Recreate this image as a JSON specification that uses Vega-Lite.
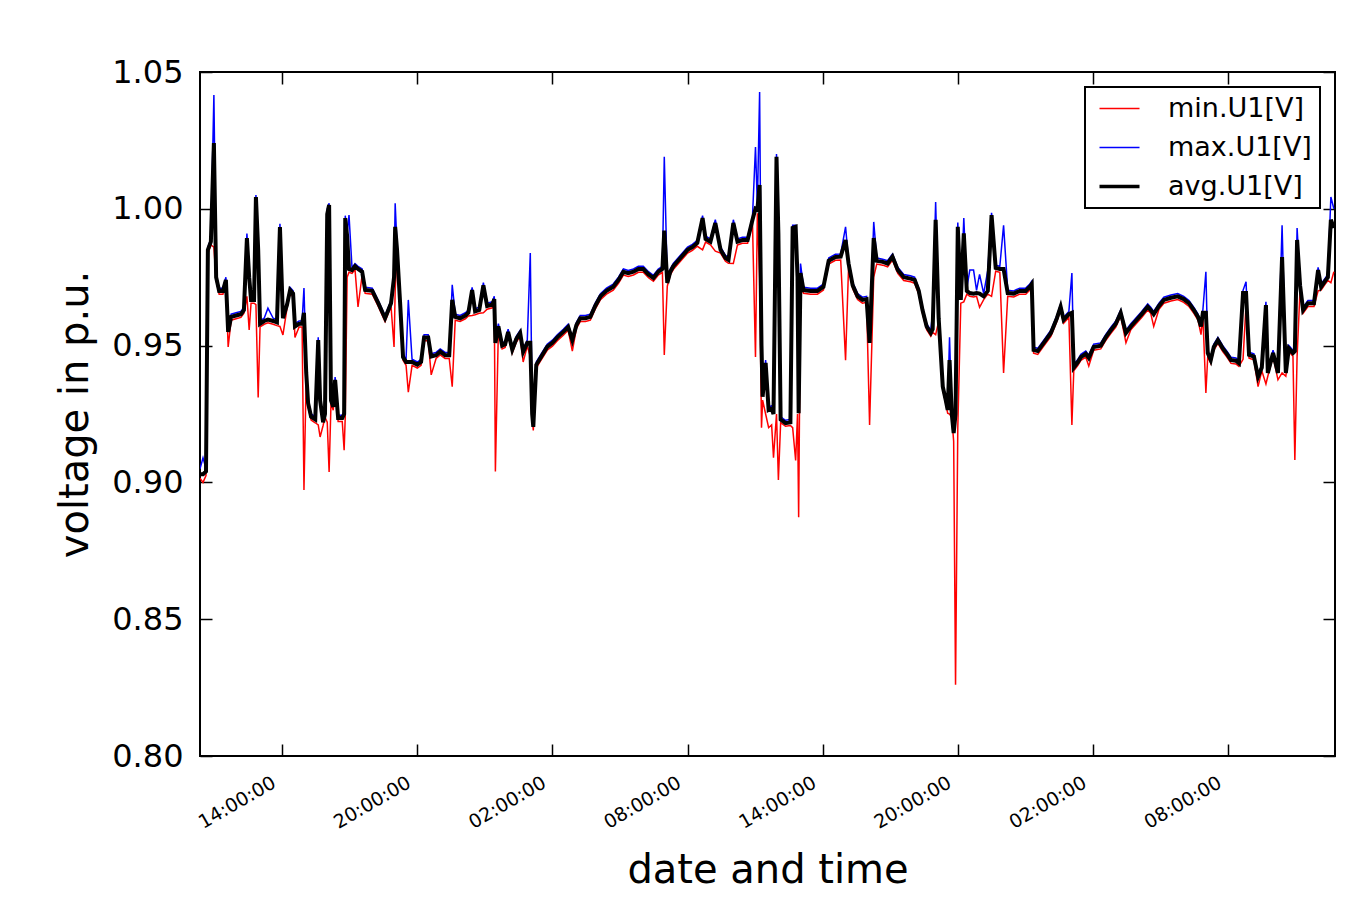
{
  "$schema": "https://vega.github.io/schema/vega-lite/v6.json",
  "width": 1135,
  "height": 684,
  "autosize": {"type": "none"},
  "padding": {"left": 200, "top": 72, "right": 33, "bottom": 155},
  "background": "white",
  "config": {
    "font": "DejaVu Sans",
    "view": {"stroke": "black", "strokeWidth": 2, "fill": "white"},
    "axis": {"domain": false, "grid": false, "tickColor": "black", "tickWidth": 1.5, "labelColor": "black", "titleColor": "black", "titleFontWeight": "normal", "labelFont": "DejaVu Sans", "titleFont": "DejaVu Sans"}
  },
  "data": {"values": [
{"time":"2017-06-12T10:21","avg":0.903,"min":0.9015,"max":0.905},
{"time":"2017-06-12T10:29","avg":0.903,"min":0.900,"max":0.909},
{"time":"2017-06-12T10:37","avg":0.904,"min":0.9025,"max":0.905},
{"time":"2017-06-12T10:42","avg":0.985,"min":0.9838,"max":0.986},
{"time":"2017-06-12T10:50","avg":0.988,"min":0.9868,"max":0.989},
{"time":"2017-06-12T10:58","avg":1.024,"min":0.986,"max":1.0416},
{"time":"2017-06-12T11:04","avg":0.975,"min":0.9738,"max":0.976},
{"time":"2017-06-12T11:12","avg":0.970,"min":0.9688,"max":0.971},
{"time":"2017-06-12T11:22","avg":0.970,"min":0.9688,"max":0.971},
{"time":"2017-06-12T11:30","avg":0.974,"min":0.9728,"max":0.975},
{"time":"2017-06-12T11:36","avg":0.955,"min":0.9495,"max":0.956},
{"time":"2017-06-12T11:44","avg":0.9605,"min":0.9593,"max":0.9615},
{"time":"2017-06-12T11:57","avg":0.961,"min":0.9598,"max":0.962},
{"time":"2017-06-12T12:10","avg":0.9615,"min":0.9603,"max":0.9625},
{"time":"2017-06-12T12:18","avg":0.963,"min":0.9618,"max":0.964},
{"time":"2017-06-12T12:26","avg":0.9893,"min":0.968,"max":0.991},
{"time":"2017-06-12T12:32","avg":0.975,"min":0.9557,"max":0.977},
{"time":"2017-06-12T12:37","avg":0.9667,"min":0.9655,"max":0.9677},
{"time":"2017-06-12T12:45","avg":0.9667,"min":0.9655,"max":0.9677},
{"time":"2017-06-12T12:50","avg":1.0043,"min":0.965,"max":1.005},
{"time":"2017-06-12T12:56","avg":0.985,"min":0.931,"max":0.986},
{"time":"2017-06-12T13:01","avg":0.958,"min":0.9568,"max":0.959},
{"time":"2017-06-12T13:12","avg":0.959,"min":0.9578,"max":0.960},
{"time":"2017-06-12T13:22","avg":0.9595,"min":0.9583,"max":0.9637},
{"time":"2017-06-12T13:36","avg":0.959,"min":0.9578,"max":0.960},
{"time":"2017-06-12T13:46","avg":0.9585,"min":0.9573,"max":0.9595},
{"time":"2017-06-12T13:54","avg":0.9933,"min":0.957,"max":0.9945},
{"time":"2017-06-12T14:02","avg":0.960,"min":0.9539,"max":0.961},
{"time":"2017-06-12T14:13","avg":0.965,"min":0.9638,"max":0.966},
{"time":"2017-06-12T14:21","avg":0.9703,"min":0.9691,"max":0.9713},
{"time":"2017-06-12T14:29","avg":0.969,"min":0.9678,"max":0.970},
{"time":"2017-06-12T14:34","avg":0.957,"min":0.953,"max":0.958},
{"time":"2017-06-12T14:45","avg":0.958,"min":0.9568,"max":0.959},
{"time":"2017-06-12T14:53","avg":0.958,"min":0.9568,"max":0.959},
{"time":"2017-06-12T14:58","avg":0.962,"min":0.8972,"max":0.971},
{"time":"2017-06-12T15:04","avg":0.940,"min":0.9388,"max":0.941},
{"time":"2017-06-12T15:09","avg":0.929,"min":0.9278,"max":0.930},
{"time":"2017-06-12T15:17","avg":0.924,"min":0.9228,"max":0.925},
{"time":"2017-06-12T15:28","avg":0.923,"min":0.9218,"max":0.924},
{"time":"2017-06-12T15:36","avg":0.952,"min":0.921,"max":0.953},
{"time":"2017-06-12T15:41","avg":0.930,"min":0.9166,"max":0.931},
{"time":"2017-06-12T15:49","avg":0.922,"min":0.9208,"max":0.923},
{"time":"2017-06-12T15:54","avg":0.925,"min":0.9238,"max":0.926},
{"time":"2017-06-12T16:00","avg":0.998,"min":0.922,"max":1.000},
{"time":"2017-06-12T16:05","avg":1.0014,"min":0.9038,"max":1.002},
{"time":"2017-06-12T16:10","avg":0.930,"min":0.9288,"max":0.931},
{"time":"2017-06-12T16:16","avg":0.9276,"min":0.9264,"max":0.9285},
{"time":"2017-06-12T16:21","avg":0.9375,"min":0.9363,"max":0.9385},
{"time":"2017-06-12T16:29","avg":0.9235,"min":0.9223,"max":0.9245},
{"time":"2017-06-12T16:40","avg":0.9235,"min":0.9223,"max":0.9245},
{"time":"2017-06-12T16:45","avg":0.925,"min":0.9118,"max":0.926},
{"time":"2017-06-12T16:48","avg":0.9966,"min":0.924,"max":0.9975},
{"time":"2017-06-12T16:53","avg":0.990,"min":0.975,"max":0.991},
{"time":"2017-06-12T16:58","avg":0.978,"min":0.9768,"max":0.9977},
{"time":"2017-06-12T17:06","avg":0.9776,"min":0.9764,"max":0.9785},
{"time":"2017-06-12T17:14","avg":0.979,"min":0.9778,"max":0.980},
{"time":"2017-06-12T17:22","avg":0.978,"min":0.9641,"max":0.979},
{"time":"2017-06-12T17:33","avg":0.977,"min":0.9758,"max":0.978},
{"time":"2017-06-12T17:41","avg":0.9703,"min":0.9691,"max":0.9713},
{"time":"2017-06-12T18:00","avg":0.970,"min":0.9688,"max":0.971},
{"time":"2017-06-12T18:16","avg":0.9655,"min":0.9643,"max":0.9665},
{"time":"2017-06-12T18:34","avg":0.960,"min":0.9588,"max":0.961},
{"time":"2017-06-12T18:50","avg":0.9655,"min":0.9643,"max":0.9665},
{"time":"2017-06-12T18:58","avg":0.975,"min":0.9495,"max":0.976},
{"time":"2017-06-12T19:01","avg":0.9934,"min":0.970,"max":1.002},
{"time":"2017-06-12T19:06","avg":0.985,"min":0.9838,"max":0.986},
{"time":"2017-06-12T19:14","avg":0.966,"min":0.9648,"max":0.967},
{"time":"2017-06-12T19:22","avg":0.9458,"min":0.9446,"max":0.9468},
{"time":"2017-06-12T19:30","avg":0.944,"min":0.9428,"max":0.945},
{"time":"2017-06-12T19:36","avg":0.944,"min":0.933,"max":0.9667},
{"time":"2017-06-12T19:46","avg":0.944,"min":0.9428,"max":0.945},
{"time":"2017-06-12T20:00","avg":0.943,"min":0.9418,"max":0.944},
{"time":"2017-06-12T20:10","avg":0.944,"min":0.9428,"max":0.945},
{"time":"2017-06-12T20:18","avg":0.953,"min":0.9518,"max":0.954},
{"time":"2017-06-12T20:29","avg":0.953,"min":0.9518,"max":0.954},
{"time":"2017-06-12T20:37","avg":0.946,"min":0.9393,"max":0.947},
{"time":"2017-06-12T20:50","avg":0.9465,"min":0.9453,"max":0.9475},
{"time":"2017-06-12T21:01","avg":0.9478,"min":0.9466,"max":0.9488},
{"time":"2017-06-12T21:14","avg":0.9465,"min":0.9453,"max":0.9475},
{"time":"2017-06-12T21:25","avg":0.9465,"min":0.9453,"max":0.9475},
{"time":"2017-06-12T21:33","avg":0.9667,"min":0.935,"max":0.9722},
{"time":"2017-06-12T21:41","avg":0.9605,"min":0.9593,"max":0.9615},
{"time":"2017-06-12T21:54","avg":0.960,"min":0.9588,"max":0.961},
{"time":"2017-06-12T22:08","avg":0.961,"min":0.9598,"max":0.962},
{"time":"2017-06-12T22:16","avg":0.962,"min":0.9608,"max":0.963},
{"time":"2017-06-12T22:26","avg":0.9703,"min":0.961,"max":0.9713},
{"time":"2017-06-12T22:34","avg":0.9625,"min":0.9613,"max":0.9635},
{"time":"2017-06-12T22:45","avg":0.963,"min":0.9618,"max":0.964},
{"time":"2017-06-12T22:56","avg":0.972,"min":0.962,"max":0.973},
{"time":"2017-06-12T23:06","avg":0.9645,"min":0.9633,"max":0.9655},
{"time":"2017-06-12T23:20","avg":0.965,"min":0.9638,"max":0.966},
{"time":"2017-06-12T23:25","avg":0.967,"min":0.9658,"max":0.968},
{"time":"2017-06-12T23:28","avg":0.951,"min":0.904,"max":0.952},
{"time":"2017-06-12T23:36","avg":0.957,"min":0.9558,"max":0.958},
{"time":"2017-06-12T23:46","avg":0.950,"min":0.9488,"max":0.951},
{"time":"2017-06-12T23:54","avg":0.9505,"min":0.9493,"max":0.9515},
{"time":"2017-06-13T00:02","avg":0.955,"min":0.9538,"max":0.956},
{"time":"2017-06-13T00:13","avg":0.9485,"min":0.9473,"max":0.9495},
{"time":"2017-06-13T00:24","avg":0.9525,"min":0.9513,"max":0.9535},
{"time":"2017-06-13T00:34","avg":0.9546,"min":0.9534,"max":0.9556},
{"time":"2017-06-13T00:42","avg":0.9477,"min":0.944,"max":0.9487},
{"time":"2017-06-13T00:53","avg":0.951,"min":0.9498,"max":0.952},
{"time":"2017-06-13T01:01","avg":0.951,"min":0.946,"max":0.9838},
{"time":"2017-06-13T01:06","avg":0.925,"min":0.9238,"max":0.926},
{"time":"2017-06-13T01:09","avg":0.9203,"min":0.919,"max":0.9213},
{"time":"2017-06-13T01:17","avg":0.943,"min":0.9418,"max":0.944},
{"time":"2017-06-13T01:28","avg":0.9455,"min":0.9443,"max":0.9465},
{"time":"2017-06-13T01:46","avg":0.9495,"min":0.9483,"max":0.9505},
{"time":"2017-06-13T02:00","avg":0.951,"min":0.9498,"max":0.952},
{"time":"2017-06-13T02:13","avg":0.953,"min":0.9518,"max":0.954},
{"time":"2017-06-13T02:29","avg":0.955,"min":0.9538,"max":0.956},
{"time":"2017-06-13T02:42","avg":0.9568,"min":0.9556,"max":0.9578},
{"time":"2017-06-13T02:53","avg":0.952,"min":0.948,"max":0.953},
{"time":"2017-06-13T03:04","avg":0.9575,"min":0.9563,"max":0.9585},
{"time":"2017-06-13T03:14","avg":0.960,"min":0.9588,"max":0.961},
{"time":"2017-06-13T03:28","avg":0.960,"min":0.9588,"max":0.961},
{"time":"2017-06-13T03:41","avg":0.9605,"min":0.9593,"max":0.9615},
{"time":"2017-06-13T03:54","avg":0.9645,"min":0.9633,"max":0.9655},
{"time":"2017-06-13T04:08","avg":0.968,"min":0.9668,"max":0.969},
{"time":"2017-06-13T04:24","avg":0.970,"min":0.9688,"max":0.971},
{"time":"2017-06-13T04:42","avg":0.9715,"min":0.9703,"max":0.9725},
{"time":"2017-06-13T04:56","avg":0.974,"min":0.9728,"max":0.975},
{"time":"2017-06-13T05:09","avg":0.977,"min":0.9758,"max":0.978},
{"time":"2017-06-13T05:22","avg":0.9765,"min":0.9753,"max":0.9775},
{"time":"2017-06-13T05:36","avg":0.977,"min":0.9758,"max":0.978},
{"time":"2017-06-13T05:49","avg":0.978,"min":0.9768,"max":0.979},
{"time":"2017-06-13T06:02","avg":0.978,"min":0.9768,"max":0.979},
{"time":"2017-06-13T06:16","avg":0.976,"min":0.9748,"max":0.977},
{"time":"2017-06-13T06:29","avg":0.9747,"min":0.9735,"max":0.9757},
{"time":"2017-06-13T06:42","avg":0.977,"min":0.9758,"max":0.978},
{"time":"2017-06-13T06:53","avg":0.978,"min":0.9768,"max":0.979},
{"time":"2017-06-13T06:58","avg":0.992,"min":0.9466,"max":1.019},
{"time":"2017-06-13T07:06","avg":0.9729,"min":0.9717,"max":0.9739},
{"time":"2017-06-13T07:14","avg":0.977,"min":0.9758,"max":0.978},
{"time":"2017-06-13T07:22","avg":0.979,"min":0.9778,"max":0.980},
{"time":"2017-06-13T07:41","avg":0.982,"min":0.9808,"max":0.983},
{"time":"2017-06-13T08:00","avg":0.985,"min":0.9838,"max":0.986},
{"time":"2017-06-13T08:13","avg":0.986,"min":0.9848,"max":0.987},
{"time":"2017-06-13T08:26","avg":0.9875,"min":0.9863,"max":0.9885},
{"time":"2017-06-13T08:40","avg":0.9966,"min":0.985,"max":0.9975},
{"time":"2017-06-13T08:48","avg":0.989,"min":0.9878,"max":0.990},
{"time":"2017-06-13T09:01","avg":0.988,"min":0.9868,"max":0.989},
{"time":"2017-06-13T09:14","avg":0.9948,"min":0.9845,"max":0.996},
{"time":"2017-06-13T09:28","avg":0.985,"min":0.9838,"max":0.986},
{"time":"2017-06-13T09:41","avg":0.982,"min":0.9808,"max":0.983},
{"time":"2017-06-13T09:49","avg":0.9813,"min":0.9801,"max":0.9823},
{"time":"2017-06-13T10:02","avg":0.9948,"min":0.980,"max":0.996},
{"time":"2017-06-13T10:13","avg":0.988,"min":0.9868,"max":0.989},
{"time":"2017-06-13T10:26","avg":0.9886,"min":0.9874,"max":0.9896},
{"time":"2017-06-13T10:40","avg":0.9886,"min":0.9874,"max":0.9896},
{"time":"2017-06-13T10:53","avg":0.996,"min":0.9948,"max":0.997},
{"time":"2017-06-13T11:01","avg":1.000,"min":0.9458,"max":1.0226},
{"time":"2017-06-13T11:06","avg":0.9996,"min":0.9984,"max":1.001},
{"time":"2017-06-13T11:12","avg":1.0087,"min":0.975,"max":1.0427},
{"time":"2017-06-13T11:17","avg":0.950,"min":0.920,"max":0.952},
{"time":"2017-06-13T11:20","avg":0.9313,"min":0.9301,"max":0.9325},
{"time":"2017-06-13T11:28","avg":0.9437,"min":0.925,"max":0.9447},
{"time":"2017-06-13T11:36","avg":0.9265,"min":0.920,"max":0.9275},
{"time":"2017-06-13T11:44","avg":0.927,"min":0.921,"max":0.928},
{"time":"2017-06-13T11:49","avg":0.925,"min":0.909,"max":0.926},
{"time":"2017-06-13T11:57","avg":1.019,"min":0.925,"max":1.020},
{"time":"2017-06-13T12:02","avg":0.991,"min":0.9009,"max":0.992},
{"time":"2017-06-13T12:08","avg":0.923,"min":0.9218,"max":0.924},
{"time":"2017-06-13T12:21","avg":0.9217,"min":0.9205,"max":0.9227},
{"time":"2017-06-13T12:34","avg":0.922,"min":0.9208,"max":0.923},
{"time":"2017-06-13T12:40","avg":0.993,"min":0.920,"max":0.994},
{"time":"2017-06-13T12:48","avg":0.9934,"min":0.908,"max":0.994},
{"time":"2017-06-13T12:53","avg":0.975,"min":0.925,"max":0.976},
{"time":"2017-06-13T12:56","avg":0.9253,"min":0.8873,"max":0.926},
{"time":"2017-06-13T13:01","avg":0.9765,"min":0.972,"max":0.980},
{"time":"2017-06-13T13:09","avg":0.9703,"min":0.9691,"max":0.9713},
{"time":"2017-06-13T13:28","avg":0.970,"min":0.9688,"max":0.971},
{"time":"2017-06-13T13:46","avg":0.970,"min":0.9688,"max":0.971},
{"time":"2017-06-13T14:02","avg":0.9715,"min":0.9703,"max":0.9725},
{"time":"2017-06-13T14:16","avg":0.981,"min":0.9798,"max":0.982},
{"time":"2017-06-13T14:34","avg":0.9824,"min":0.9812,"max":0.9834},
{"time":"2017-06-13T14:48","avg":0.9825,"min":0.9813,"max":0.9835},
{"time":"2017-06-13T15:01","avg":0.9886,"min":0.9447,"max":0.9934},
{"time":"2017-06-13T15:09","avg":0.980,"min":0.9788,"max":0.981},
{"time":"2017-06-13T15:20","avg":0.972,"min":0.9708,"max":0.973},
{"time":"2017-06-13T15:33","avg":0.968,"min":0.9668,"max":0.969},
{"time":"2017-06-13T15:46","avg":0.9667,"min":0.9655,"max":0.9677},
{"time":"2017-06-13T15:57","avg":0.967,"min":0.9658,"max":0.968},
{"time":"2017-06-13T16:05","avg":0.951,"min":0.921,"max":0.952},
{"time":"2017-06-13T16:16","avg":0.9893,"min":0.975,"max":0.9952},
{"time":"2017-06-13T16:24","avg":0.981,"min":0.9798,"max":0.982},
{"time":"2017-06-13T16:40","avg":0.9806,"min":0.9794,"max":0.9816},
{"time":"2017-06-13T16:53","avg":0.980,"min":0.9788,"max":0.981},
{"time":"2017-06-13T17:06","avg":0.9825,"min":0.9813,"max":0.9835},
{"time":"2017-06-13T17:20","avg":0.9776,"min":0.9764,"max":0.9786},
{"time":"2017-06-13T17:36","avg":0.975,"min":0.9738,"max":0.976},
{"time":"2017-06-13T17:54","avg":0.9745,"min":0.9733,"max":0.9755},
{"time":"2017-06-13T18:05","avg":0.974,"min":0.9728,"max":0.975},
{"time":"2017-06-13T18:16","avg":0.970,"min":0.9688,"max":0.971},
{"time":"2017-06-13T18:26","avg":0.963,"min":0.9618,"max":0.964},
{"time":"2017-06-13T18:37","avg":0.957,"min":0.9558,"max":0.958},
{"time":"2017-06-13T18:48","avg":0.9546,"min":0.9534,"max":0.9556},
{"time":"2017-06-13T18:53","avg":0.956,"min":0.9548,"max":0.962},
{"time":"2017-06-13T19:01","avg":0.996,"min":0.954,"max":1.0025},
{"time":"2017-06-13T19:09","avg":0.960,"min":0.9588,"max":0.961},
{"time":"2017-06-13T19:20","avg":0.935,"min":0.9338,"max":0.936},
{"time":"2017-06-13T19:28","avg":0.930,"min":0.9288,"max":0.931},
{"time":"2017-06-13T19:33","avg":0.9265,"min":0.9253,"max":0.9275},
{"time":"2017-06-13T19:38","avg":0.9447,"min":0.925,"max":0.953},
{"time":"2017-06-13T19:44","avg":0.925,"min":0.9238,"max":0.926},
{"time":"2017-06-13T19:49","avg":0.918,"min":0.915,"max":0.919},
{"time":"2017-06-13T19:54","avg":0.925,"min":0.826,"max":0.926},
{"time":"2017-06-13T20:00","avg":0.9934,"min":0.920,"max":0.995},
{"time":"2017-06-13T20:08","avg":0.9667,"min":0.9655,"max":0.9677},
{"time":"2017-06-13T20:16","avg":0.991,"min":0.966,"max":0.9966},
{"time":"2017-06-13T20:24","avg":0.970,"min":0.9688,"max":0.971},
{"time":"2017-06-13T20:32","avg":0.9692,"min":0.968,"max":0.9776},
{"time":"2017-06-13T20:42","avg":0.969,"min":0.9678,"max":0.9776},
{"time":"2017-06-13T20:50","avg":0.9692,"min":0.968,"max":0.9702},
{"time":"2017-06-13T20:58","avg":0.969,"min":0.964,"max":0.976},
{"time":"2017-06-13T21:09","avg":0.968,"min":0.9668,"max":0.969},
{"time":"2017-06-13T21:20","avg":0.970,"min":0.9688,"max":0.9776},
{"time":"2017-06-13T21:30","avg":0.9977,"min":0.968,"max":0.9985},
{"time":"2017-06-13T21:41","avg":0.9784,"min":0.9772,"max":0.9794},
{"time":"2017-06-13T21:52","avg":0.978,"min":0.9768,"max":0.979},
{"time":"2017-06-13T22:02","avg":0.978,"min":0.940,"max":0.994},
{"time":"2017-06-13T22:13","avg":0.9692,"min":0.968,"max":0.9702},
{"time":"2017-06-13T22:29","avg":0.969,"min":0.9678,"max":0.970},
{"time":"2017-06-13T22:45","avg":0.970,"min":0.9688,"max":0.971},
{"time":"2017-06-13T23:01","avg":0.970,"min":0.9688,"max":0.971},
{"time":"2017-06-13T23:12","avg":0.9715,"min":0.9703,"max":0.9725},
{"time":"2017-06-13T23:17","avg":0.9725,"min":0.9713,"max":0.9735},
{"time":"2017-06-13T23:22","avg":0.9484,"min":0.9472,"max":0.9494},
{"time":"2017-06-13T23:33","avg":0.948,"min":0.9468,"max":0.949},
{"time":"2017-06-13T23:49","avg":0.951,"min":0.9498,"max":0.952},
{"time":"2017-06-14T00:08","avg":0.9546,"min":0.9534,"max":0.9556},
{"time":"2017-06-14T00:24","avg":0.960,"min":0.9588,"max":0.961},
{"time":"2017-06-14T00:34","avg":0.9642,"min":0.963,"max":0.9652},
{"time":"2017-06-14T00:42","avg":0.9594,"min":0.9582,"max":0.9604},
{"time":"2017-06-14T00:56","avg":0.9615,"min":0.9603,"max":0.9625},
{"time":"2017-06-14T01:04","avg":0.962,"min":0.921,"max":0.9765},
{"time":"2017-06-14T01:09","avg":0.942,"min":0.9408,"max":0.943},
{"time":"2017-06-14T01:20","avg":0.944,"min":0.9428,"max":0.945},
{"time":"2017-06-14T01:28","avg":0.9458,"min":0.9446,"max":0.9468},
{"time":"2017-06-14T01:41","avg":0.947,"min":0.9458,"max":0.948},
{"time":"2017-06-14T01:49","avg":0.9455,"min":0.9425,"max":0.9465},
{"time":"2017-06-14T02:02","avg":0.9495,"min":0.9483,"max":0.9505},
{"time":"2017-06-14T02:21","avg":0.950,"min":0.9488,"max":0.951},
{"time":"2017-06-14T02:34","avg":0.953,"min":0.9518,"max":0.954},
{"time":"2017-06-14T02:48","avg":0.9557,"min":0.9545,"max":0.9567},
{"time":"2017-06-14T03:01","avg":0.958,"min":0.9568,"max":0.959},
{"time":"2017-06-14T03:14","avg":0.962,"min":0.9608,"max":0.963},
{"time":"2017-06-14T03:28","avg":0.9546,"min":0.951,"max":0.9556},
{"time":"2017-06-14T03:41","avg":0.957,"min":0.9558,"max":0.958},
{"time":"2017-06-14T03:54","avg":0.959,"min":0.9578,"max":0.960},
{"time":"2017-06-14T04:10","avg":0.9615,"min":0.9603,"max":0.9625},
{"time":"2017-06-14T04:26","avg":0.9642,"min":0.963,"max":0.9652},
{"time":"2017-06-14T04:34","avg":0.963,"min":0.9618,"max":0.964},
{"time":"2017-06-14T04:42","avg":0.9615,"min":0.957,"max":0.9625},
{"time":"2017-06-14T04:56","avg":0.9645,"min":0.9633,"max":0.9655},
{"time":"2017-06-14T05:09","avg":0.9667,"min":0.9655,"max":0.9677},
{"time":"2017-06-14T05:28","avg":0.9675,"min":0.9663,"max":0.9685},
{"time":"2017-06-14T05:46","avg":0.968,"min":0.9668,"max":0.969},
{"time":"2017-06-14T06:02","avg":0.967,"min":0.9658,"max":0.968},
{"time":"2017-06-14T06:16","avg":0.9655,"min":0.9643,"max":0.9665},
{"time":"2017-06-14T06:29","avg":0.963,"min":0.9618,"max":0.964},
{"time":"2017-06-14T06:40","avg":0.9605,"min":0.9593,"max":0.9615},
{"time":"2017-06-14T06:48","avg":0.957,"min":0.954,"max":0.958},
{"time":"2017-06-14T06:53","avg":0.962,"min":0.9608,"max":0.963},
{"time":"2017-06-14T07:01","avg":0.962,"min":0.9327,"max":0.977},
{"time":"2017-06-14T07:06","avg":0.9473,"min":0.9461,"max":0.9483},
{"time":"2017-06-14T07:14","avg":0.9447,"min":0.9435,"max":0.9457},
{"time":"2017-06-14T07:22","avg":0.9495,"min":0.9483,"max":0.9505},
{"time":"2017-06-14T07:33","avg":0.952,"min":0.9508,"max":0.953},
{"time":"2017-06-14T07:46","avg":0.949,"min":0.9478,"max":0.950},
{"time":"2017-06-14T07:57","avg":0.947,"min":0.9458,"max":0.948},
{"time":"2017-06-14T08:08","avg":0.9447,"min":0.9435,"max":0.9457},
{"time":"2017-06-14T08:21","avg":0.9445,"min":0.9433,"max":0.9455},
{"time":"2017-06-14T08:29","avg":0.9436,"min":0.9424,"max":0.9446},
{"time":"2017-06-14T08:40","avg":0.9692,"min":0.945,"max":0.9702},
{"time":"2017-06-14T08:48","avg":0.9692,"min":0.965,"max":0.9733},
{"time":"2017-06-14T08:56","avg":0.9466,"min":0.9454,"max":0.9476},
{"time":"2017-06-14T09:09","avg":0.946,"min":0.9448,"max":0.947},
{"time":"2017-06-14T09:20","avg":0.9386,"min":0.935,"max":0.9396},
{"time":"2017-06-14T09:30","avg":0.942,"min":0.9408,"max":0.943},
{"time":"2017-06-14T09:41","avg":0.9648,"min":0.936,"max":0.966},
{"time":"2017-06-14T09:46","avg":0.940,"min":0.9388,"max":0.941},
{"time":"2017-06-14T10:00","avg":0.9473,"min":0.9461,"max":0.9483},
{"time":"2017-06-14T10:13","avg":0.940,"min":0.9375,"max":0.941},
{"time":"2017-06-14T10:24","avg":0.9824,"min":0.940,"max":0.994},
{"time":"2017-06-14T10:34","avg":0.940,"min":0.9388,"max":0.941},
{"time":"2017-06-14T10:42","avg":0.949,"min":0.9478,"max":0.950},
{"time":"2017-06-14T10:53","avg":0.9473,"min":0.9461,"max":0.9483},
{"time":"2017-06-14T10:58","avg":0.948,"min":0.9082,"max":0.949},
{"time":"2017-06-14T11:04","avg":0.9886,"min":0.946,"max":0.993},
{"time":"2017-06-14T11:12","avg":0.972,"min":0.9708,"max":0.973},
{"time":"2017-06-14T11:20","avg":0.963,"min":0.9618,"max":0.964},
{"time":"2017-06-14T11:33","avg":0.9655,"min":0.9643,"max":0.9665},
{"time":"2017-06-14T11:49","avg":0.9655,"min":0.9643,"max":0.9665},
{"time":"2017-06-14T12:00","avg":0.9776,"min":0.970,"max":0.9786},
{"time":"2017-06-14T12:08","avg":0.9715,"min":0.9703,"max":0.9725},
{"time":"2017-06-14T12:18","avg":0.9735,"min":0.9723,"max":0.9745},
{"time":"2017-06-14T12:26","avg":0.975,"min":0.9738,"max":0.976},
{"time":"2017-06-14T12:34","avg":0.996,"min":0.973,"max":1.0043},
{"time":"2017-06-14T12:42","avg":0.993,"min":0.977,"max":1.000}
  ]},
  "layer": [
    {
      "mark": {"type": "line", "strokeWidth": 1.5, "clip": true},
      "encoding": {
        "x": {
          "field": "time", "type": "temporal",
          "scale": {"domain": [{"year": 2017, "month": 6, "date": 12, "hours": 10, "minutes": 21}, {"year": 2017, "month": 6, "date": 14, "hours": 12, "minutes": 45}], "nice": false},
          "axis": {
            "orient": "bottom",
            "values": [
              {"year": 2017, "month": 6, "date": 12, "hours": 14},
              {"year": 2017, "month": 6, "date": 12, "hours": 20},
              {"year": 2017, "month": 6, "date": 13, "hours": 2},
              {"year": 2017, "month": 6, "date": 13, "hours": 8},
              {"year": 2017, "month": 6, "date": 13, "hours": 14},
              {"year": 2017, "month": 6, "date": 13, "hours": 20},
              {"year": 2017, "month": 6, "date": 14, "hours": 2},
              {"year": 2017, "month": 6, "date": 14, "hours": 8}
            ],
            "format": "%H:%M:%S",
            "labelAngle": -30,
            "labelAlign": "right",
            "labelBaseline": "top",
            "labelFontSize": 19,
            "labelOverlap": false,
            "labelFlush": false,
            "labelOffset": -13,
            "tickSize": -12,
            "labelPadding": 29,
            "title": "date and time",
            "titleFontSize": 40,
            "titlePadding": 18
          }
        },
        "y": {
          "field": "min", "type": "quantitative",
          "scale": {"domain": [0.8, 1.05], "nice": false, "zero": false},
          "axis": {
            "orient": "left",
            "values": [0.8, 0.85, 0.9, 0.95, 1.0, 1.05],
            "format": ".2f",
            "labelFontSize": 32,
            "labelOverlap": false,
            "labelFlush": false,
            "tickSize": -12,
            "labelPadding": 29,
            "title": "voltage in p.u.",
            "titleFontSize": 40,
            "titlePadding": 16
          }
        },
        "color": {
          "datum": "min.U1[V]",
          "scale": {"domain": ["min.U1[V]", "max.U1[V]", "avg.U1[V]"], "range": ["#ff0000", "#0000ff", "#000000"]},
          "legend": {
            "title": null,
            "orient": "top-right",
            "offset": 15,
            "padding": 8,
            "fillColor": "white",
            "strokeColor": "black",
            "symbolType": "stroke",
            "symbolSize": 1600,
            "symbolStrokeWidth": 1.5,
            "symbolOffset": 13,
            "labelFontSize": 27,
            "labelFont": "DejaVu Sans",
            "labelColor": "black",
            "labelOffset": 35,
            "rowPadding": 11,
            "encode": {
              "legend": {"update": {"strokeWidth": {"value": 2}}},
              "symbols": {"update": {"strokeWidth": {"signal": "datum.value === 'avg.U1[V]' ? 3.5 : 1.5"}}}
            }
          }
        }
      }
    },
    {
      "mark": {"type": "line", "strokeWidth": 1.5, "clip": true},
      "encoding": {
        "x": {
          "field": "time", "type": "temporal",
          "axis": {
            "orient": "top",
            "values": [
              {"year": 2017, "month": 6, "date": 12, "hours": 14},
              {"year": 2017, "month": 6, "date": 12, "hours": 20},
              {"year": 2017, "month": 6, "date": 13, "hours": 2},
              {"year": 2017, "month": 6, "date": 13, "hours": 8},
              {"year": 2017, "month": 6, "date": 13, "hours": 14},
              {"year": 2017, "month": 6, "date": 13, "hours": 20},
              {"year": 2017, "month": 6, "date": 14, "hours": 2},
              {"year": 2017, "month": 6, "date": 14, "hours": 8}
            ],
            "labels": false,
            "tickSize": -12,
            "title": null
          }
        },
        "y": {
          "field": "max", "type": "quantitative",
          "axis": {
            "orient": "right",
            "values": [0.8, 0.85, 0.9, 0.95, 1.0, 1.05],
            "labels": false,
            "tickSize": -12,
            "title": null
          }
        },
        "color": {"datum": "max.U1[V]"}
      }
    },
    {
      "mark": {"type": "line", "strokeWidth": 4, "clip": true},
      "encoding": {
        "x": {"field": "time", "type": "temporal", "axis": null},
        "y": {"field": "avg", "type": "quantitative", "axis": null},
        "color": {"datum": "avg.U1[V]"}
      }
    }
  ],
  "resolve": {"axis": {"x": "independent", "y": "independent"}}
}
